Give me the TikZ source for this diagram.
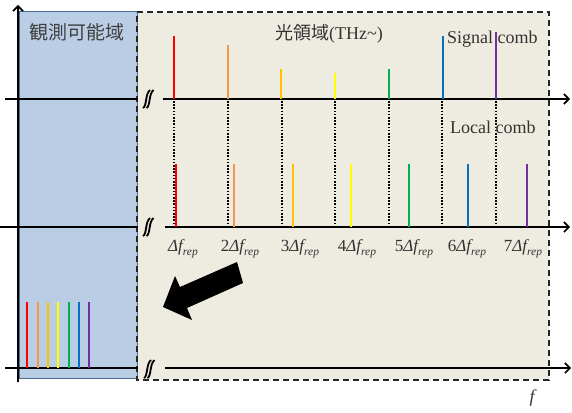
\documentclass[tikz,border=0pt]{standalone}
\usepackage{fontspec}
\setmainfont{Liberation Serif}
\newfontfamily\cjk{Noto Sans CJK JP}
\usetikzlibrary{arrows.meta}
\definecolor{cred}{HTML}{FF0000}
\definecolor{corange}{HTML}{F79646}
\definecolor{cgold}{HTML}{FFC000}
\definecolor{cyellow}{HTML}{FFFF00}
\definecolor{cgreen}{HTML}{00B050}
\definecolor{cblue}{HTML}{0070C0}
\definecolor{cpurple}{HTML}{7030A0}
\definecolor{obsfill}{HTML}{B9CDE5}
\definecolor{obsline}{HTML}{4A6B93}
\definecolor{optfill}{HTML}{EEECE1}
\definecolor{txt}{HTML}{333333}
\definecolor{cjktxt}{HTML}{404040}
\newcommand{\subrep}{\lower4pt\hbox{\fontsize{11.5}{12}\selectfont\itshape rep}}
\begin{document}
\begin{tikzpicture}[x=1pt,y=-1pt,
  axisline/.style={line width=1.8pt,black},
  axisarrow/.style={axisline,-{Straight Barb[length=5pt,width=10pt,line width=1.6pt]}},
  combline/.style={line width=2.4pt},
  dotline/.style={line width=2pt,dash pattern=on 1.6pt off 1.6pt},
  breakmark/.style={line width=1.8pt,black},
  lbl/.style={font=\fontsize{18}{20}\selectfont, text=txt, inner sep=0pt},
  flbl/.style={font=\fontsize{17}{19}\selectfont, text=txt, inner sep=0pt},
  cjklbl/.style={font=\cjk\fontsize{19}{21}\selectfont, text=cjktxt, inner sep=0pt},
  brk/.pic={
    \draw[breakmark] (-5,9) .. controls (-1,7) and (-3,-5) .. (2,-9);
    \draw[breakmark] (-1.5,9) .. controls (2.5,7) and (0.5,-5) .. (5.5,-9);
  }
]
\useasboundingbox (0,0) rectangle (572,412);

% regions
\fill[optfill] (137,12) rectangle (549,380);
\draw[obsline,line width=1pt,fill=obsfill] (19,12) rectangle (137,378);
\draw[line width=1.8pt,black!85,dash pattern=on 6pt off 4pt] (137,12) -- (549,12) -- (549,380) -- (137,380) -- cycle;

% vertical axis
\coordinate (vb) at (18,382);
\coordinate (vt) at (18,5);
\draw[axisarrow] (vb) -- (vt);

% horizontal axes
\coordinate (a1l) at (5,99);   \coordinate (a1m) at (138,99);
\coordinate (a1r) at (163,99); \coordinate (a1e) at (570,99);
\coordinate (a2l) at (0,227);  \coordinate (a2m) at (138,227);
\coordinate (a2r) at (165,227);\coordinate (a2e) at (570,227);
\coordinate (a3l) at (5,368);  \coordinate (a3m) at (138,368);
\coordinate (a3r) at (165,368);\coordinate (a3e) at (571,368);
\draw[axisline] (a1l) -- (a1m);
\draw[axisarrow] (a1r) -- (a1e);
\draw[axisline] (a2l) -- (a2m);
\draw[axisarrow] (a2r) -- (a2e);
\draw[axisline] (a3l) -- (a3m);
\draw[axisarrow] (a3r) -- (a3e);
\pic at (148,99) {brk};
\pic at (148,227) {brk};
\pic at (149,369) {brk};

% dotted guides
\foreach \x in {174,228,282,335,389,442,496}
  \draw[dotline] (\x,101) -- (\x,225);

% signal comb
\foreach \x/\t/\c in {174/36/cred,228/45/corange,281/69/cgold,335/73/cyellow,389/69/cgreen,443/36/cblue,496/32/cpurple}
  \draw[combline,\c] (\x,\t) -- (\x,99);

% local comb
\foreach \x/\c in {176/cred,234/corange,293/cgold,351/cyellow,409/cgreen,468/cblue,527/cpurple}
  \draw[combline,\c] (\x,164) -- (\x,227);

% observable comb
\foreach \x/\c in {27/cred,38/corange,48/cgold,58/cyellow,69/cgreen,79/cblue,89/cpurple}
  \draw[combline,\c] (\x,302) -- (\x,368);

% labels
\node[cjklbl] (obs) at (77,32) {観測可能域};
\node[lbl,anchor=base] (opt) at (329,40) {{\cjk 光領域}(THz\textasciitilde)};
\node[lbl,anchor=base west] (sig) at (447,44) {Signal comb};
\node[lbl,anchor=base west] (loc) at (450,133) {Local comb};
\node[flbl,anchor=base] (l1) at (183,251) {{\itshape Δf}\subrep};
\node[flbl,anchor=base] (l2) at (240,251) {2{\itshape Δf}\subrep};
\node[flbl,anchor=base] (l3) at (300,251) {3{\itshape Δf}\subrep};
\node[flbl,anchor=base] (l4) at (357,251) {4{\itshape Δf}\subrep};
\node[flbl,anchor=base] (l5) at (414,251) {5{\itshape Δf}\subrep};
\node[flbl,anchor=base] (l6) at (467,251) {6{\itshape Δf}\subrep};
\node[flbl,anchor=base] (l7) at (523,251) {7{\itshape Δf}\subrep};
\node[lbl,anchor=base] (fl) at (532,402) {\itshape f};

% big arrow
\fill[black] (163,307) -- (175,276) -- (180,287) -- (237,262) -- (243,283) -- (187,308) -- (192,320) -- cycle;
\end{tikzpicture}
\end{document}
